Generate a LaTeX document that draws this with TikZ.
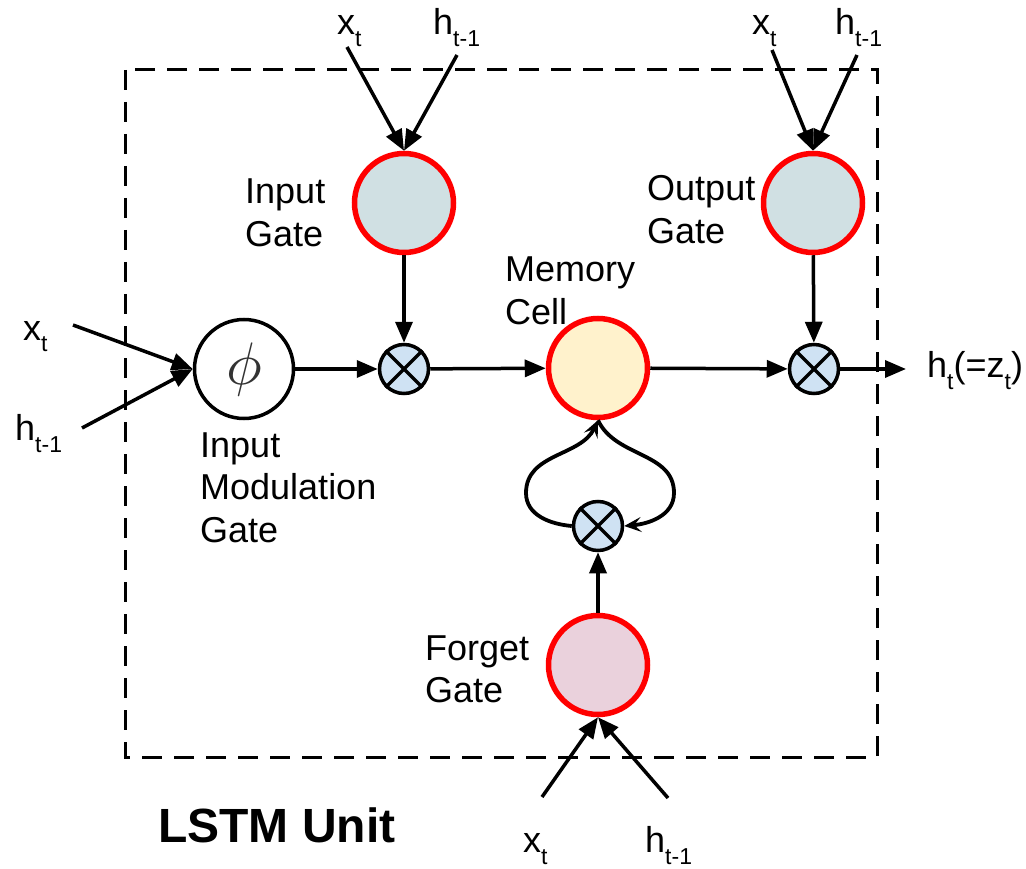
\documentclass[tikz,border=0pt]{standalone}
\usepackage{fontspec}
\usepackage{graphicx}
\setmainfont{Liberation Sans}
\usetikzlibrary{arrows.meta}
\definecolor{gatered}{HTML}{FF0000}
\definecolor{gatefill}{HTML}{D0E0E3}
\definecolor{memfill}{HTML}{FFF2CC}
\definecolor{forgetfill}{HTML}{EAD1DC}
\definecolor{crossfill}{HTML}{CFE2F3}
\newcommand\lsub[1]{\raisebox{-12pt}{\fontsize{23}{23}\selectfont #1}}
\newcommand\twolines[2]{\begin{tabular}[t]{@{}l@{}}#1\\#2\end{tabular}}
\newcommand\threelines[3]{\begin{tabular}[t]{@{}l@{}}#1\\#2\\#3\end{tabular}}
\begin{document}
\begin{tikzpicture}[x=1pt,y=-1pt,
  lbl/.style={font=\fontsize{36}{42.5}\selectfont, anchor=base west, inner sep=0pt},
  gatecirc/.style={circle, draw=gatered, line width=5.5pt, minimum size=99pt, inner sep=0pt},
  crosscirc/.style={circle, draw=black, line width=3.5pt, fill=crossfill, minimum size=49pt, inner sep=0pt},
  arr/.style={line width=3.5pt, -{Triangle[length=21pt,width=17pt]}},
  looparr/.style={line width=3.8pt, -{Stealth[length=17pt,width=15pt,inset=7pt]}},
  boxline/.style={line width=3pt, dash pattern=on 20pt off 12pt}
]
\useasboundingbox (0,0) rectangle (1026,869);

% dashed unit box
\draw[boxline] (125,70) rectangle (877,757);

% nodes
\node[gatecirc, fill=gatefill] (ig) at (404,203) {};
\node[gatecirc, fill=gatefill] (og) at (813,203) {};
\node[gatecirc, fill=memfill] (mc) at (598,368) {};
\node[gatecirc, fill=forgetfill] (fg) at (598,665) {};
\node[circle, draw=black, line width=3.5pt, fill=white, minimum size=99pt, inner sep=0pt] (phi) at (244,369)
  {\color{black!80}\scalebox{6}{$\phi$}};
\node[crosscirc] (xi) at (404,369) {};
\node[crosscirc] (xo) at (814,369) {};
\node[crosscirc] (xf) at (598,526) {};
\foreach \c in {xi,xo,xf}{
  \draw[line width=3.5pt] (\c.north east) -- (\c.south west) (\c.north west) -- (\c.south east);
}

% text labels
\node[lbl] (ixt) at (337,35) {x\lsub{t}};
\node[lbl] (iht) at (433,35) {h\lsub{t-1}};
\node[lbl] (oxt) at (752,35) {x\lsub{t}};
\node[lbl] (oht) at (835,35) {h\lsub{t-1}};
\node[lbl] (lxt) at (23,340) {x\lsub{t}};
\node[lbl] (lht) at (15,440) {h\lsub{t-1}};
\node[lbl] (fxt) at (523,852) {x\lsub{t}};
\node[lbl] (fht) at (645,852) {h\lsub{t-1}};
\node[lbl] (hout) at (927,377) {h\lsub{t}(=z\lsub{t})};

\node[lbl] (igl) at (245,204) {\twolines{Input}{Gate}};
\node[lbl] (ogl) at (647,201) {\twolines{Output}{Gate}};
\node[lbl] (mcl) at (505,282) {\twolines{Memory}{Cell}};
\node[lbl] (fgl) at (425,660) {\twolines{Forget}{Gate}};
\node[lbl] (phl) at (200,457) {\threelines{Input}{Modulation}{Gate}};
\node[anchor=base west, inner sep=0pt, font=\fontsize{48}{48}\selectfont\bfseries] (unit) at (158,842) {LSTM Unit};

% free arrow ends
\coordinate (ia1) at (347,47);
\coordinate (ia2) at (457,55);
\coordinate (oa1) at (772,50);
\coordinate (oa2) at (857,55);
\coordinate (la1) at (73,325);
\coordinate (la2) at (82,428);
\coordinate (fa1) at (542,797);
\coordinate (fa2) at (668,798);
\coordinate (hend) at (906,369);
\coordinate (loopl) at (526,493);
\coordinate (loopr) at (674,493);

% input arrows
\draw[arr] (ia1) -- (ig.north);
\draw[arr] (ia2) -- (ig.north);
\draw[arr] (oa1) -- (og.north);
\draw[arr] (oa2) -- (og.north);
\draw[arr] (la1) -- (phi.west);
\draw[arr] (la2) -- (phi.west);
\draw[arr] (fa1) -- (fg.south);
\draw[arr] (fa2) -- (fg.south);

% main flow
\draw[arr] (phi) -- (xi);
\draw[arr] (xi) -- (mc);
\draw[arr] (mc) -- (xo);
\draw[arr] (xo) -- (hend);
\draw[arr] (ig) -- (xi);
\draw[arr] (og) -- (xo);
\draw[arr] (fg) -- (xf);

% recurrent loop
\draw[looparr] (xf.west) to[out=175,in=-90] (loopl) to[out=90,in=-115] (mc.south);
\draw[looparr] (mc.south) to[out=-65,in=90] (loopr) to[out=-90,in=5] (xf.east);
\end{tikzpicture}
\end{document}
